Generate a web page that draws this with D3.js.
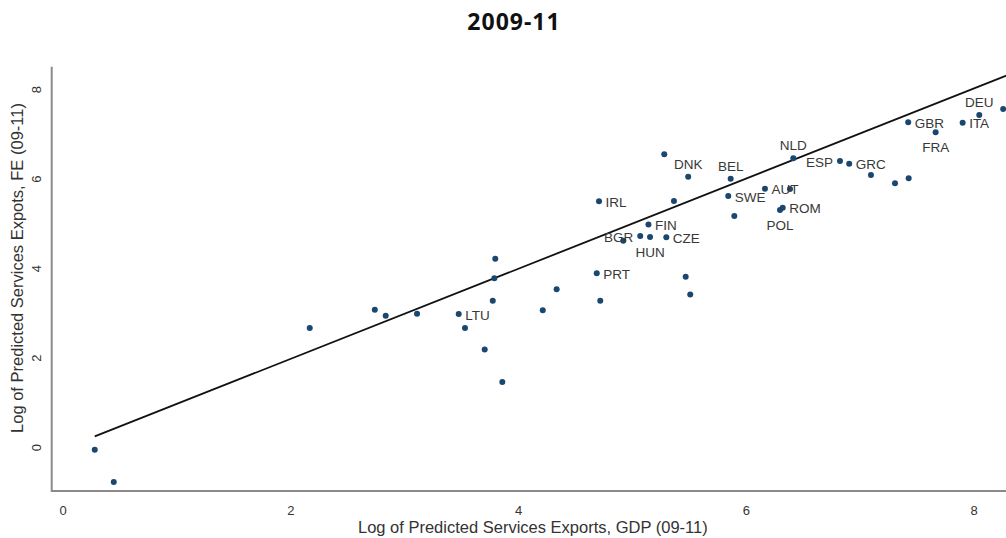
<!DOCTYPE html>
<html>
<head>
<meta charset="utf-8">
<script src="https://cdn.jsdelivr.net/npm/d3@7"></script>
<style>
  body { margin: 0; background: #fff; overflow: hidden; }
</style>
</head>
<body>
<div id="chart"></div>
<script>
// Values (log predicted services exports, 2009-11)
const gdpX = [0.278, 0.445, 2.166, 2.737, 2.833, 3.108, 3.474, 3.529, 3.702, 3.857,
    3.773, 3.787, 3.795, 4.212, 4.334, 4.686, 4.717, 4.706, 4.919, 5.068,
    5.154, 5.140, 5.297, 5.279, 5.364, 5.489, 5.467, 5.507, 5.862, 5.841,
    5.894, 6.163, 6.383, 6.319, 6.295, 6.412, 6.822, 6.903, 7.094, 7.305,
    7.425, 7.421, 7.662, 7.899, 8.045, 8.255];
const feY = [-0.049, -0.771, 2.670, 3.079, 2.945, 2.990, 2.983, 2.670, 2.194, 1.464,
    3.280, 3.781, 4.219, 3.066, 3.535, 3.893, 3.280, 5.502, 4.621, 4.726,
    4.704, 4.983, 4.697, 6.554, 5.508, 6.051, 3.817, 3.423, 6.007, 5.620,
    5.173, 5.783, 5.777, 5.359, 5.307, 6.463, 6.402, 6.342, 6.089, 5.904,
    6.016, 7.267, 7.044, 7.258, 7.430, 7.564];
const codes = ["", "", "", "", "", "", "LTU", "", "", "",
    "", "", "", "", "", "PRT", "", "IRL", "", "BGR",
    "HUN", "FIN", "CZE", "", "", "DNK", "", "", "BEL", "SWE",
    "", "AUT", "", "ROM", "POL", "NLD", "ESP", "GRC", "", "",
    "", "GBR", "FRA", "ITA", "DEU", ""];
const xTicks = [0, 2, 4, 6, 8];
const yTicks = [0, 2, 4, 6, 8];
// linear fit
const fitIntercept = -0.03;
const fitSlope = 1.007;

const title = "2009-11";
const xTitle = "Log of Predicted Services Exports, GDP (09-11)";
const yTitle = "Log of Predicted Services Expots, FE (09-11)";

// label clock position (default: right of the marker)
const labelPos = { DNK: "top", BEL: "top", NLD: "top", DEU: "top",
    FRA: "bottom", HUN: "bottom", POL: "bottom", BGR: "left", ESP: "left" };

const width = 1006;
const height = 538;
const plot = { left: 51.7, right: 1014, top: 66.7, bottom: 491 };

const svg = d3.select("#chart").append("svg")
    .attr("width", width)
    .attr("height", height)
    .style("font-family", "'Liberation Sans', Arial, sans-serif");

svg.append("rect").attr("width", width).attr("height", height).attr("fill", "#fff");

const x = d3.scaleLinear().domain([-0.1, 8.35]).range([plot.left, plot.right]);
const y = d3.scaleLinear().domain([-0.97, 8.51]).range([plot.bottom, plot.top]);

const data = gdpX.map((d, i) => ({ x: d, y: feY[i], code: codes[i] }));

svg.append("clipPath").attr("id", "plotclip")
  .append("rect")
    .attr("x", plot.left).attr("y", plot.top - 10)
    .attr("width", plot.right - plot.left).attr("height", plot.bottom - plot.top + 10);

const g = svg.append("g").attr("clip-path", "url(#plotclip)");

// fitted line
const x0 = d3.min(gdpX), x1 = x.domain()[1];
g.append("line")
    .attr("x1", x(x0)).attr("y1", y(fitIntercept + fitSlope * x0))
    .attr("x2", x(x1)).attr("y2", y(fitIntercept + fitSlope * x1))
    .attr("stroke", "#111")
    .attr("stroke-width", 1.8);

// markers
g.selectAll("circle")
  .data(data)
  .join("circle")
    .attr("cx", d => x(d.x))
    .attr("cy", d => y(d.y))
    .attr("r", 3)
    .attr("fill", "#1a476f");

// marker labels
g.selectAll("text.lab")
  .data(data.filter(d => d.code))
  .join("text")
    .attr("class", "lab")
    .attr("x", d => {
        const p = labelPos[d.code];
        if (p === "left") return x(d.x) - 7;
        if (p === "top" || p === "bottom") return x(d.x);
        return x(d.x) + 6.5;
    })
    .attr("y", d => {
        const p = labelPos[d.code];
        if (p === "top") return y(d.y) - 12.5;
        if (p === "bottom") return y(d.y) + 15.5;
        return y(d.y) + 1;
    })
    .attr("text-anchor", d => {
        const p = labelPos[d.code];
        if (p === "left") return "end";
        if (p === "top" || p === "bottom") return "middle";
        return "start";
    })
    .attr("dominant-baseline", "central")
    .attr("font-size", 13.5)
    .attr("fill", "#383838")
    .text(d => d.code);

// axes (Stata style: gray lines, no ticks)
const axisColor = "#8a8a8a";
svg.append("line")
    .attr("x1", plot.left).attr("x2", width)
    .attr("y1", plot.bottom).attr("y2", plot.bottom)
    .attr("stroke", axisColor).attr("stroke-width", 2);
svg.append("line")
    .attr("x1", plot.left).attr("x2", plot.left)
    .attr("y1", plot.top).attr("y2", plot.bottom + 1)
    .attr("stroke", axisColor).attr("stroke-width", 2);

svg.selectAll("text.xt")
  .data(xTicks)
  .join("text")
    .attr("class", "xt")
    .attr("x", d => x(d))
    .attr("y", 510)
    .attr("text-anchor", "middle")
    .attr("dominant-baseline", "central")
    .attr("font-size", 13)
    .attr("fill", "#333")
    .text(d => d);

svg.selectAll("text.yt")
  .data(yTicks)
  .join("text")
    .attr("class", "yt")
    .attr("transform", d => `translate(36,${y(d)}) rotate(-90)`)
    .attr("text-anchor", "middle")
    .attr("dominant-baseline", "central")
    .attr("font-size", 13)
    .attr("fill", "#333")
    .text(d => d);

// axis titles
svg.append("text")
    .attr("x", (plot.left + plot.right) / 2)
    .attr("y", 527)
    .attr("text-anchor", "middle")
    .attr("dominant-baseline", "central")
    .attr("font-size", 16.5)
    .attr("fill", "#333")
    .text(xTitle);

svg.append("text")
    .attr("transform", "translate(17,268) rotate(-90)")
    .attr("text-anchor", "middle")
    .attr("dominant-baseline", "central")
    .attr("font-size", 16.5)
    .attr("fill", "#333")
    .text(yTitle);

// title
svg.append("text")
    .attr("x", 514)
    .attr("y", 29.5)
    .attr("text-anchor", "middle")
    .style("font-family", "'Open Sans', sans-serif")
    .attr("font-weight", "bold")
    .attr("font-size", 23)
    .attr("letter-spacing", 1)
    .attr("fill", "#111")
    .text(title);
</script>
</body>
</html>
